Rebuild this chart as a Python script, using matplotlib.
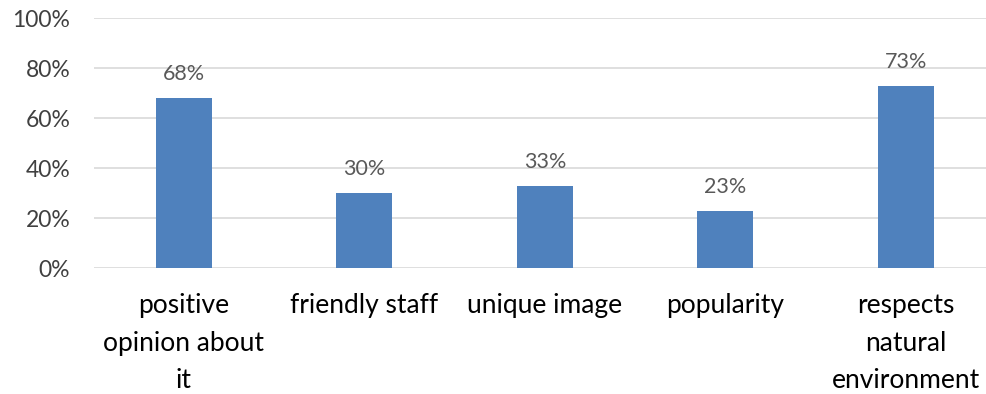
import matplotlib.pyplot as plt
from matplotlib.ticker import FuncFormatter

categories = ['positive\nopinion about\nit', 'friendly staff', 'unique image',
              'popularity', 'respects\nnatural\nenvironment']
values = [68, 30, 33, 23, 73]
y_ticks = [0, 20, 40, 60, 80, 100]

plt.rcParams['font.family'] = ['Lato', 'DejaVu Sans']

fig = plt.figure(figsize=(9.87, 3.94), dpi=100)
ax = fig.add_axes([0.095, 0.319, 0.914, 0.635])

x = range(len(categories))
ax.bar(x, values, width=0.31, color='#4F81BD', zorder=3)

for xi, v in zip(x, values):
    ax.text(xi, v + 5.5, f'{v}%', ha='center', va='bottom', fontsize=15.5, color='#595959')

ax.set_xlim(-0.5, len(categories) - 0.5)
ax.set_ylim(0, 100)
ax.set_yticks(y_ticks)
ax.yaxis.set_major_formatter(FuncFormatter(lambda v, p: f'{v:.0f}%'))
ax.set_xticks(list(x))
ax.set_xticklabels(categories, fontsize=19, color='black', linespacing=1.62)
ax.tick_params(axis='y', labelsize=16.5, labelcolor='#404040', length=0, pad=17)
ax.tick_params(axis='x', length=0, pad=18)
ax.grid(axis='y', color='#D9D9D9', linewidth=1.2, zorder=0)
for s in ax.spines.values():
    s.set_visible(False)

fig.savefig('out.png', dpi=100)
